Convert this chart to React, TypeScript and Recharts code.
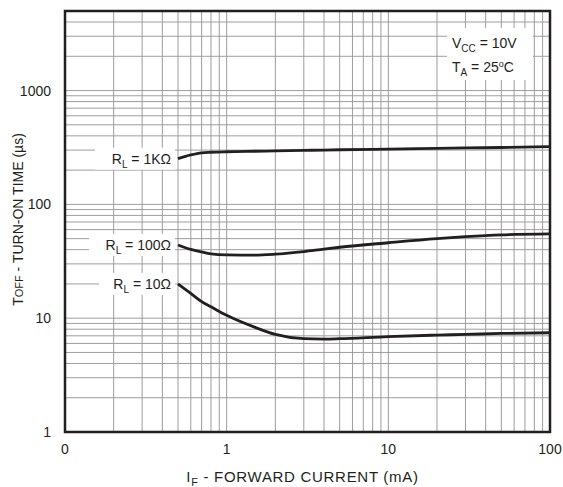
import React from 'react';
import { LineChart, Line, XAxis, YAxis, CartesianGrid, ReferenceArea } from 'recharts';

// forward current (mA) sample points shared by the three curves
const current = [0.5, 0.6, 0.7, 0.8, 1, 1.5, 2, 3, 4, 5, 10, 20, 30, 50, 100];
// TOFF (µs)
const toff1k = [252, 272, 284, 287, 290, 293, 295, 298, 300, 302, 306, 310, 313, 316, 322];
const toff100 = [44, 40.2, 38.2, 36.8, 36, 35.8, 36.5, 38.5, 40.5, 42, 46, 50, 52, 54, 55];
const toff10 = [20, 16.5, 14, 12.6, 10.6, 8.3, 7.2, 6.6, 6.55, 6.6, 6.9, 7.1, 7.2, 7.35, 7.45];

const xTicks = [
    0.1, 0.2, 0.3, 0.4, 0.5, 0.6, 0.7, 0.8, 0.9,
    1, 2, 3, 4, 5, 6, 7, 8, 9,
    10, 20, 30, 40, 50, 60, 70, 80, 90, 100,
];
const xTickLabels: Record<string, string> = { '0.1': '0', '1': '1', '10': '10', '100': '100' };

const yTicks = [
    1, 2, 3, 4, 5, 6, 7, 8, 9,
    10, 20, 30, 40, 50, 60, 70, 80, 90,
    100, 200, 300, 400, 500, 600, 700, 800, 900,
    1000, 2000, 3000, 4000, 5000,
];
const yTickLabels: Record<string, string> = { '1': '1', '10': '10', '100': '100', '1000': '1000' };

const FONT = '"Liberation Sans", Arial, Helvetica, sans-serif';
const TEXT = '#231f20';

const curves = [
    { key: '1k', values: toff1k, label: '1KΩ', boxW: 76 },
    { key: '100', values: toff100, label: '100Ω', boxW: 82 },
    { key: '10', values: toff10, label: '10Ω', boxW: 72 },
];

const makeCurveLabel = (text: string, boxW: number) => (p: any) => {
    if (p.index !== 0) return <g key={`l-${p.index}`} />;
    const right = p.x - 7;
    return (
        <g key="lbl">
            <rect x={right - boxW} y={p.y - 11} width={boxW + 4} height={22} fill="#fff" />
            <text x={right} y={p.y + 5} textAnchor="end" fontSize={14} fontFamily={FONT} fill={TEXT}>
                R<tspan fontSize={10} dy={4}>L</tspan>
                <tspan dy={-4}>{` = ${text}`}</tspan>
            </text>
        </g>
    );
};

const YTitle = (props: any) => {
    const vb = props.viewBox;
    const cx = vb.x + 13;
    const cy = vb.y + vb.height / 2 - 2;
    return (
        <text x={cx} y={cy} transform={`rotate(-90 ${cx} ${cy})`} textAnchor="middle" fontSize={14} fontFamily={FONT} fill={TEXT}>
            T<tspan fontSize={11}>OFF</tspan> - TURN-ON TIME (µs)
        </text>
    );
};

const XTitle = (props: any) => {
    const vb = props.viewBox;
    const cx = vb.x + vb.width / 2 - 5;
    const cy = vb.y + 50;
    return (
        <text x={cx} y={cy} textAnchor="middle" fontSize={15} letterSpacing={0.7} fontFamily={FONT} fill={TEXT}>
            I<tspan fontSize={11} dy={4}>F</tspan>
            <tspan dy={-4}> - FORWARD CURRENT (mA)</tspan>
        </text>
    );
};

export default function App() {
    const data = current.map((c, i) => ({
        current: c,
        '1k': toff1k[i],
        '100': toff100[i],
        '10': toff10[i],
    }));

    return (
        <div style={{ position: 'absolute', left: 0, top: 0, width: 563, height: 487, background: '#fff' }}>
            <LineChart
                width={563}
                height={487}
                data={data}
                margin={{ top: 11, right: 13, bottom: 25, left: 10 }}
            >
                <CartesianGrid stroke="#9d9d9d" strokeWidth={1} />
                <XAxis
                    dataKey="current"
                    type="number"
                    scale="log"
                    domain={[0.1, 100]}
                    ticks={xTicks}
                    interval={0}
                    allowDataOverflow
                    axisLine={false}
                    tickLine={false}
                    tickMargin={6}
                    height={30}
                    tick={{ fill: TEXT, fontSize: 14, fontFamily: FONT }}
                    tickFormatter={(v: number) => xTickLabels[String(v)] ?? ''}
                    label={{ content: XTitle }}
                />
                <YAxis
                    type="number"
                    scale="log"
                    domain={[1, 5000]}
                    ticks={yTicks}
                    interval={0}
                    allowDataOverflow
                    axisLine={false}
                    tickLine={false}
                    tickMargin={8}
                    width={55}
                    tick={{ fill: TEXT, fontSize: 14, fontFamily: FONT }}
                    tickFormatter={(v: number) => yTickLabels[String(v)] ?? ''}
                    label={{ content: YTitle }}
                />
                <ReferenceArea x1={0.1} x2={100} y1={1} y2={5000} fill="none" stroke="#231f20" strokeWidth={2.5} fillOpacity={0} />
                {curves.map((c) => (
                    <Line
                        key={c.key}
                        dataKey={c.key}
                        type="monotone"
                        stroke="#231f20"
                        strokeWidth={2.8}
                        dot={false}
                        isAnimationActive={false}
                        label={makeCurveLabel(c.label, c.boxW)}
                    />
                ))}
            </LineChart>
            <svg width={563} height={487} style={{ position: 'absolute', left: 0, top: 0, pointerEvents: 'none' }}>
                <rect x={447} y={28} width={86} height={52} fill="#fff" />
                <text x={452} y={48} fontSize={14} fontFamily={FONT} fill={TEXT}>
                    V<tspan fontSize={10} dy={4}>CC</tspan>
                    <tspan dy={-4}> = 10V</tspan>
                </text>
                <text x={452} y={72} fontSize={14} fontFamily={FONT} fill={TEXT}>
                    T<tspan fontSize={10} dy={4}>A</tspan>
                    <tspan dy={-4}> = 25</tspan>
                    <tspan fontSize={9} dy={-5}>o</tspan>
                    <tspan dy={5}>C</tspan>
                </text>
            </svg>
        </div>
    );
}
